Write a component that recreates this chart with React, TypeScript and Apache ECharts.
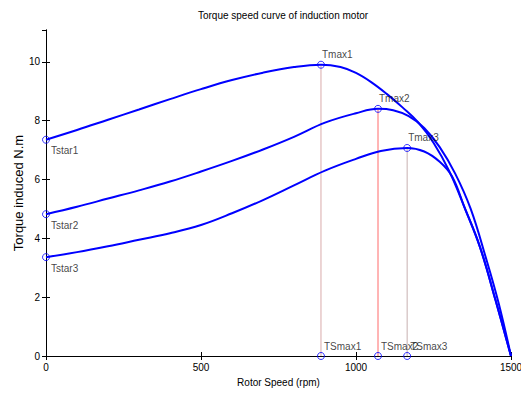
import React, { useEffect, useRef } from "react";
import * as echarts from "echarts";

const title = "Torque speed curve of induction motor";
const xName = "Rotor Speed (rpm)";
const yName = "Torque induced N.m";

const speed1 = [0, 100, 200, 300, 400, 500, 600, 700, 800, 887, 950, 1000, 1050, 1100, 1150, 1200, 1250, 1300, 1350, 1400, 1450, 1500];
const torque1 = [7.35, 7.68, 8.03, 8.38, 8.73, 9.07, 9.38, 9.63, 9.82, 9.9, 9.82, 9.62, 9.3, 8.9, 8.45, 7.95, 7.25, 6.3, 5.05, 3.7, 1.9, 0];

const speed2 = [0, 100, 200, 300, 400, 500, 600, 700, 800, 900, 1000, 1071, 1120, 1170, 1220, 1270, 1320, 1370, 1420, 1460, 1500];
const torque2 = [4.82, 5.07, 5.35, 5.63, 5.93, 6.27, 6.63, 7.02, 7.45, 7.93, 8.25, 8.4, 8.35, 8.15, 7.75, 7.1, 6.2, 5.0, 3.3, 1.8, 0];

const speed3 = [0, 100, 200, 300, 400, 500, 600, 700, 800, 900, 1000, 1080, 1165, 1220, 1270, 1310, 1350, 1400, 1450, 1500];
const torque3 = [3.36, 3.53, 3.73, 3.95, 4.17, 4.45, 4.85, 5.3, 5.8, 6.3, 6.7, 6.97, 7.07, 6.95, 6.6, 6.1, 5.05, 3.7, 1.9, 0];

const startNames = ["Tstar1", "Tstar2", "Tstar3"];
const startTorques = [7.35, 4.82, 3.36];
const maxNames = ["Tmax1", "Tmax2", "Tmax3"];
const maxSpeeds = [887, 1071, 1165];
const maxTorques = [9.9, 8.4, 7.07];
const speedMaxNames = ["TSmax1", "TSmax2", "TSmax3"];
const dropColors = ["#d9aaaa", "#ff6a6a", "#c8b0b0"];

const FONT = "Liberation Sans, Arial, sans-serif";

export default function App() {
  const ref = useRef<HTMLDivElement>(null);
  useEffect(() => {
    if (!ref.current) return;
    const chart = echarts.init(ref.current, undefined, { renderer: "svg" });
    const curveSeries = [
      [speed1, torque1],
      [speed2, torque2],
      [speed3, torque3],
    ].map(([xs, ys]) => ({
      type: "line",
      data: xs.map((x, i) => [x, ys[i]]),
      symbol: "none",
      smooth: 0.4,
      lineStyle: { color: "#0000ff", width: 2 },
      z: 3,
    }));
    const dropSeries = maxSpeeds.map((x, i) => ({
      type: "line",
      data: [
        [x, 0],
        [x, maxTorques[i]],
      ],
      symbol: "none",
      lineStyle: { color: dropColors[i], width: 1 },
      z: 2,
    }));
    const labelBase = {
      show: true,
      fontSize: 10,
      fontFamily: FONT,
      color: "#111",
      formatter: (p: any) => p.data.name,
    };
    const markerStyle = {
      type: "scatter",
      symbol: "circle",
      symbolSize: 7,
      itemStyle: { color: "rgba(0,0,0,0)", borderColor: "#0000ff", borderWidth: 1 },
      z: 5,
    };
    const startSeries = {
      ...markerStyle,
      data: startNames.map((n, i) => ({ name: n, value: [0, startTorques[i]] })),
      label: { ...labelBase, position: "bottom", align: "left", offset: [5, -3] },
    };
    const maxSeries = {
      ...markerStyle,
      data: maxNames.map((n, i) => ({ name: n, value: [maxSpeeds[i], maxTorques[i]] })),
      label: { ...labelBase, position: "top", align: "left", offset: [1, 4] },
    };
    const speedMaxSeries = {
      ...markerStyle,
      data: speedMaxNames.map((n, i) => ({ name: n, value: [maxSpeeds[i], 0] })),
      label: { ...labelBase, position: "top", align: "left", offset: [3, 4] },
    };
    const axisCommon = {
      axisLine: { show: true, lineStyle: { color: "#000", width: 1 } },
      axisTick: { show: true, inside: true, length: 4, lineStyle: { color: "#000" } },
      splitLine: { show: false },
    };
    chart.setOption({
      animation: false,
      backgroundColor: "#fff",
      title: {
        text: title,
        left: 278,
        textAlign: "center",
        top: 5,
        textStyle: { fontSize: 10, fontWeight: "normal", fontFamily: FONT, color: "#000" },
      },
      grid: { left: 46, right: 10, top: 30, bottom: 39, containLabel: false, outerBoundsMode: "none" },
      xAxis: [
        {
          type: "value",
          min: 0,
          max: 1500,
          interval: 500,
          name: xName,
          nameLocation: "middle",
          nameGap: 21,
          nameMoveOverlap: false,
          nameTextStyle: { fontSize: 10, fontFamily: FONT, color: "#000" },
          axisLabel: { fontSize: 10, fontFamily: FONT, color: "#000", margin: 6, formatter: (v: number) => String(v) },
          ...axisCommon,
        },
        {
          type: "value",
          position: "top",
          min: 0,
          max: 1500,
          interval: 500,
          axisLabel: { show: false },
          ...axisCommon,
        },
      ],
      yAxis: [
        {
          type: "value",
          min: 0,
          max: 11.08,
          interval: 2,
          name: yName,
          nameLocation: "middle",
          nameGap: 21,
          nameMoveOverlap: false,
          nameTextStyle: { fontSize: 13, fontFamily: FONT, color: "#000" },
          axisLabel: { fontSize: 10, fontFamily: FONT, color: "#000", margin: 6, showMaxLabel: false },
          ...axisCommon,
        },
        {
          type: "value",
          position: "right",
          min: 0,
          max: 11.08,
          interval: 2,
          axisLabel: { show: false },
          ...axisCommon,
        },
      ],
      series: [...dropSeries, ...curveSeries, startSeries, maxSeries, speedMaxSeries],
    });
    return () => chart.dispose();
  }, []);
  return (
    <div
      ref={ref}
      style={{ position: "fixed", left: 0, top: 0, width: 521, height: 395, background: "#fff" }}
    />
  );
}
